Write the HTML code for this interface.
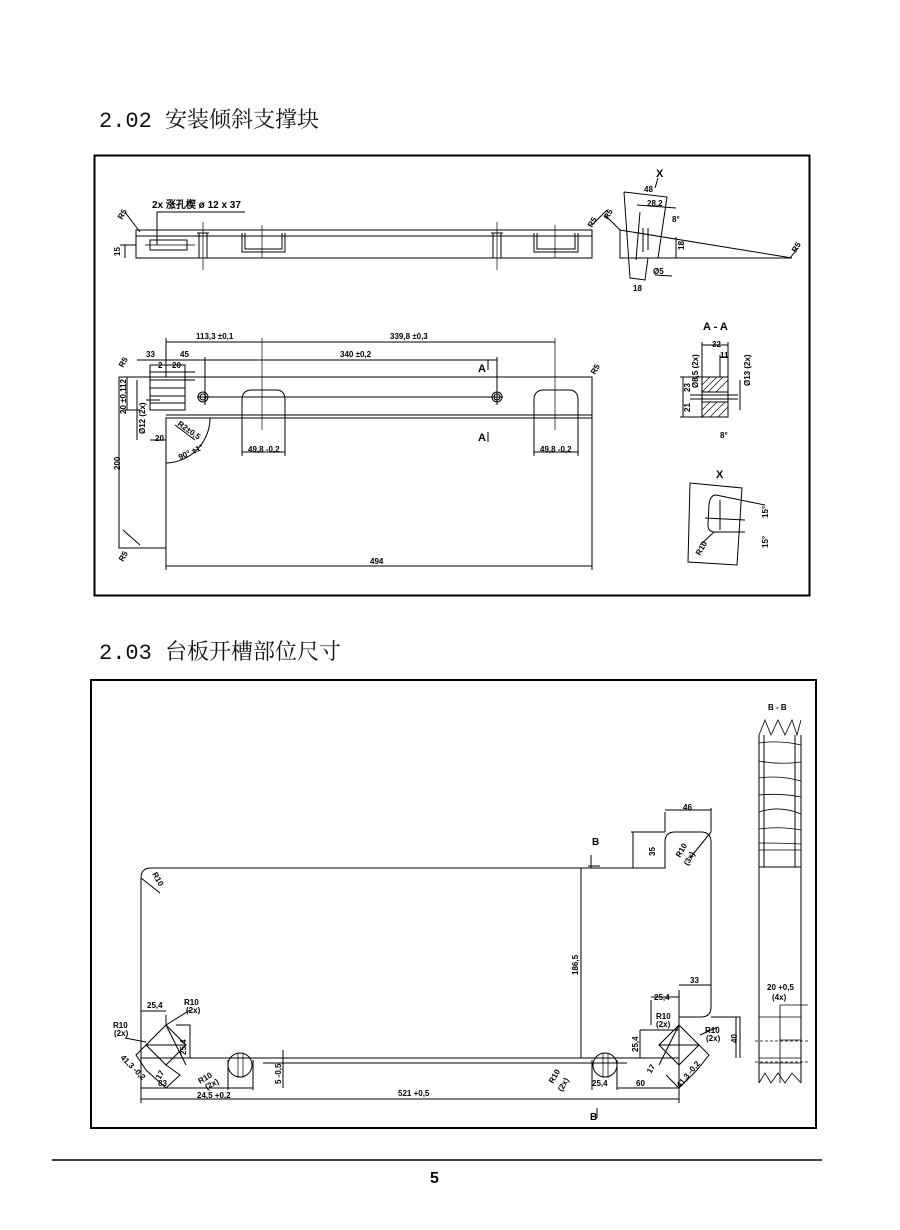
<!DOCTYPE html>
<html><head><meta charset="utf-8"><style>
html,body{margin:0;padding:0;background:#fff;}
svg{display:block;}
.t{font-family:"Liberation Sans",sans-serif;font-size:8px;font-weight:bold;fill:#000;}
.h{font-family:"Liberation Mono","Noto Serif CJK SC",serif;font-size:22px;fill:#111;}
</style></head><body>
<svg width="900" height="1230" viewBox="0 0 900 1230" xmlns="http://www.w3.org/2000/svg">
<text class="h" x="99" y="127">2.02 安装倾斜支撑块</text>
<text class="h" x="99" y="659">2.03 台板开槽部位尺寸</text>

<g fill="none" stroke="#000" stroke-width="1">
<rect x="94.5" y="155.5" width="715" height="440" stroke-width="2"/>
<!-- top side view -->
<path d="M136 230 H592 V258 H136 Z"/>
<line x1="136" y1="236" x2="592" y2="236"/>
<path d="M242 233 V252 H285 V233 M245 233 V249 H282 V233"/>
<path d="M534 233 V252 H578 V233 M537 233 V249 H575 V233"/>
<line x1="262" y1="225" x2="262" y2="258" stroke-width="0.7"/>
<line x1="555" y1="225" x2="555" y2="258" stroke-width="0.7"/>
<path d="M199 233 V258 M207 233 V258 M197 233 H209"/>
<line x1="203" y1="222" x2="203" y2="270" stroke-width="0.7"/>
<path d="M493 233 V258 M501 233 V258 M491 233 H503"/>
<line x1="497" y1="222" x2="497" y2="270" stroke-width="0.7"/>
<rect x="150" y="240" width="37" height="10"/>
<line x1="145" y1="245" x2="195" y2="245" stroke-width="0.7"/>
<path d="M157 245 V212 H245"/>
<path d="M125 245 V258 M120 245 H136"/>
<line x1="125" y1="212" x2="140" y2="232"/>
<!-- wedge -->
<path d="M620 230 L792 258 H620 Z"/>
<path d="M624 192 L667 197 L658 258 M624 192 L630 278 L645 280 L648 258"/>
<path d="M637 205 L676 208 M640 212 L636 260 M643 228 V252 M648 228 V250"/>
<path d="M676 237 V258 M655 275 L672 276"/>
<path d="M605 215 L620 230 M592 225 L607 210"/>
<line x1="658" y1="178" x2="655" y2="188"/>
<line x1="790" y1="258" x2="798" y2="248"/>
<!-- plan view -->
<path d="M119 377 H592 V418 M119 377 V548 H166 V418 H592"/>
<line x1="166" y1="415" x2="592" y2="415"/>
<line x1="592" y1="418" x2="592" y2="570"/>
<line x1="166" y1="548" x2="166" y2="570"/>
<line x1="166" y1="566" x2="592" y2="566"/>
<line x1="197" y1="397" x2="503" y2="397"/>
<circle cx="203" cy="397" r="5"/><circle cx="203" cy="397" r="3"/>
<circle cx="497" cy="397" r="5"/><circle cx="497" cy="397" r="3"/>
<path d="M242 417 V400 Q242 390 252 390 H276 Q285 390 285 400 V417"/>
<path d="M534 417 V400 Q534 390 544 390 H569 Q578 390 578 400 V417"/>
<path d="M242 417 V456 M285 417 V456 M242 452 H285 M534 417 V456 M578 417 V456 M534 452 H578"/>
<line x1="262" y1="338" x2="262" y2="430" stroke-width="0.7"/>
<line x1="555" y1="338" x2="555" y2="430" stroke-width="0.7"/>
<path d="M166 342 H555 M166 338 V377 M205 360 H497 M137 360 H205 M205 357 V405 M497 357 V405"/>
<path d="M150 365 H185 V410 H150 Z M150 372 H195 M150 380 H195 M150 388 H185 M150 396 H185 M150 403 H185"/>
<path d="M166 463 A45 45 0 0 0 210 418"/>
<path d="M175 425 L195 440"/>
<path d="M127 377 V410 M123 410 H140 M137 380 V440 M146 400 H160 M150 440 H166"/>
<path d="M123 530 L140 545"/>
<path d="M488 360 V370 M488 432 V442"/>
<!-- A-A -->
<rect x="702" y="377" width="26" height="40"/>
<path d="M702 392 H728 M702 402 H728 M690 395 H738 M690 399 H738"/>
<path d="M702 385 L710 377 M702 392 L717 377 M708 392 L723 377 M716 392 L728 380 M702 410 L710 402 M702 417 L717 402 M710 417 L725 402 M718 417 L728 407" stroke-width="0.7"/>
<path d="M702 342 V377 M728 342 V377 M702 345 H728 M720 355 V377 M720 357 H728"/>
<path d="M680 377 H702 M680 417 H702 M683 377 V417 M740 380 V410"/>
<!-- X detail -->
<path d="M690 483 L742 488 L737 565 L688 562 Z"/>
<path d="M716 495 Q710 495 709 505 L708 525 Q708 532 715 532 L745 532 M716 495 L765 505"/>
<path d="M705 518 L745 520 M720 500 L720 530"/>
<line x1="700" y1="545" x2="714" y2="532"/>
<!-- bottom frame -->
<rect x="91" y="680" width="725" height="448" stroke-width="2"/>
<path d="M141 1058 V878 Q141 868 151 868 H665 V842 Q665 832 675 832 H701 Q711 832 711 842 V1007 Q711 1017 701 1017 H679 V1058 Z"/>
<path d="M141 1058 H679"/>
<line x1="263" y1="1063" x2="627" y2="1063"/>
<line x1="581" y1="868" x2="581" y2="1058"/>
<path d="M141 1058 V1103 M679 1058 V1103 M141 1099 H679 M141 1088 H228 M228 1088 H253"/>
<path d="M228 1060 V1090 M253 1060 V1090 M592 1060 V1090 M617 1060 V1090 M617 1088 H679"/>
<circle cx="240" cy="1065" r="12"/><circle cx="605" cy="1065" r="12"/>
<path d="M238 1053 V1078 M243 1053 V1078 M603 1053 V1078 M608 1053 V1078" stroke-width="0.7"/>
<path d="M283 1050 V1088"/>
<path d="M146 1045 L166 1025 L186 1045 L166 1065 Z M146 1045 L136 1055 L146 1070 L166 1088 L180 1075 L166 1065"/>
<path d="M166 1025 L186 1065 M146 1045 L186 1045"/>
<path d="M141 1015 V1040 M166 1015 V1025 M141 1011 H166 M166 1025 L190 1010 M125 1038 L146 1042"/>
<path d="M176 1025 H190 V1058"/>
<path d="M659 1045 L679 1025 L699 1045 L679 1065 Z M699 1045 L709 1055 L697 1070 L679 1088 L666 1075"/>
<path d="M659 1045 L699 1045 M679 1025 L659 1065"/>
<path d="M640 1030 H679 M640 1030 V1058 M651 1000 V1025 M679 990 V1017 M651 997 H679 M679 985 H711 M700 1035 L718 1027"/>
<path d="M711 1017 H740 V1058 M736 1017 V1058"/>
<path d="M631 832 H665 M633 832 V868 M665 812 V832 M711 808 V832 M665 810 H711 M690 858 L711 832"/>
<path d="M141 878 L160 893"/>
<path d="M591 855 V868 M588 866 H600"/>
<path d="M597 1108 V1118"/>
<!-- B-B strip -->
<path d="M759 735 V1083 M801 735 V1083 M764 735 V867 M795 735 V867 M759 867 H801"/>
<path d="M759 735 L765 720 L771 735 L778 720 L785 735 L792 720 L797 735 L801 720" stroke-width="0.8"/>
<path d="M759 1083 L765 1073 L771 1083 L778 1073 L785 1083 L792 1073 L801 1083" stroke-width="0.8"/>
<path d="M759 743 Q780 740 801 745 M759 761 Q780 765 801 762 M759 778 Q780 775 801 781 M759 795 Q780 793 801 797 M759 812 Q780 805 801 814 M759 829 Q780 826 801 830 M759 850 H801 M759 843 Q780 843 801 844" stroke-width="0.8"/>
<path d="M759 1017 H801 M759 1058 H801 M759 1063 H801 M780 1005 V1083 M780 1005 H808 M780 1040 H801 M780 1058 H801" stroke-width="0.8"/>
<path d="M755 1041 H810 M755 1062 H810" stroke-dasharray="3 2" stroke-width="0.7"/>
<!-- page bottom -->
<line x1="52" y1="1160" x2="822" y2="1160" stroke-width="1.5"/>
</g>

<g class="t">
<text x="152" y="208" style="font-size:10px">2x 涨孔楔 ø 12 x 37</text>
<text x="122" y="220" transform="rotate(-60 122 220)">R5</text>
<text x="120" y="256" transform="rotate(-90 120 256)">15</text>
<text x="592" y="228" transform="rotate(-60 592 228)">R5</text>
<text x="608" y="220" transform="rotate(-60 608 220)">R5</text>
<text x="796" y="253" transform="rotate(-60 796 253)">R5</text>
<text x="656" y="177" style="font-size:11px">X</text>
<text x="644" y="192">48</text>
<text x="647" y="206">28,2</text>
<text x="672" y="222">8°</text>
<text x="684" y="250" transform="rotate(-90 684 250)">18</text>
<text x="653" y="274">Ø5</text>
<text x="633" y="291">18</text>
<text x="196" y="339">113,3 ±0,1</text>
<text x="390" y="339">339,8 ±0,3</text>
<text x="340" y="357">340 ±0,2</text>
<text x="146" y="357">33</text><text x="180" y="357">45</text>
<text x="158" y="368">2</text><text x="172" y="368">20</text>
<text x="123" y="368" transform="rotate(-60 123 368)">R5</text>
<text x="595" y="375" transform="rotate(-60 595 375)">R5</text>
<text x="126" y="388" transform="rotate(-90 126 388)">12</text>
<text x="126" y="414" transform="rotate(-90 126 414)">20 ±0,1</text>
<text x="145" y="434" transform="rotate(-90 145 434)">Ø12 (2x)</text>
<text x="155" y="441">20</text>
<text x="177" y="425" transform="rotate(35 177 425)">R2±0,5</text>
<text x="180" y="460" transform="rotate(-25 180 460)">90° ±1°</text>
<text x="120" y="470" transform="rotate(-90 120 470)">200</text>
<text x="123" y="562" transform="rotate(-60 123 562)">R5</text>
<text x="248" y="452">49,8 -0,2</text>
<text x="540" y="452">49,8 -0,2</text>
<text x="370" y="564">494</text>
<text x="478" y="372" style="font-size:11px">A</text>
<text x="478" y="441" style="font-size:11px">A</text>
<text x="703" y="330" style="font-size:11px">A - A</text>
<text x="712" y="347">32</text><text x="720" y="358">11</text>
<text x="690" y="392" transform="rotate(-90 690 392)">23</text>
<text x="690" y="412" transform="rotate(-90 690 412)">21</text>
<text x="698" y="388" transform="rotate(-90 698 388)">Ø8,5 (2x)</text>
<text x="750" y="386" transform="rotate(-90 750 386)">Ø13 (2x)</text>
<text x="720" y="438">8°</text>
<text x="716" y="478" style="font-size:11px">X</text>
<text x="768" y="518" transform="rotate(-90 768 518)">15°</text>
<text x="768" y="548" transform="rotate(-90 768 548)">15°</text>
<text x="700" y="556" transform="rotate(-60 700 556)">R10</text>
<text x="768" y="710">B - B</text>
<text x="683" y="810">46</text>
<text x="655" y="856" transform="rotate(-90 655 856)">35</text>
<text x="680" y="858" transform="rotate(-60 680 858)">R10</text>
<text x="688" y="866" transform="rotate(-60 688 866)">(3x)</text>
<text x="592" y="845" style="font-size:10px">B</text>
<text x="152" y="874" transform="rotate(60 152 874)">R10</text>
<text x="578" y="975" transform="rotate(-90 578 975)">186,5</text>
<text x="690" y="983">33</text>
<text x="767" y="990">20 +0,5</text>
<text x="772" y="1000">(4x)</text>
<text x="654" y="1000">25,4</text>
<text x="656" y="1019">R10</text><text x="656" y="1027">(2x)</text>
<text x="705" y="1033">R10</text><text x="706" y="1041">(2x)</text>
<text x="737" y="1043" transform="rotate(-90 737 1043)">40</text>
<text x="638" y="1052" transform="rotate(-90 638 1052)">25,4</text>
<text x="147" y="1008">25,4</text>
<text x="184" y="1005">R10</text><text x="186" y="1013">(2x)</text>
<text x="113" y="1028">R10</text><text x="114" y="1036">(2x)</text>
<text x="186" y="1055" transform="rotate(-90 186 1055)">25,4</text>
<text x="120" y="1058" transform="rotate(45 120 1058)">41,3 -0,2</text>
<text x="160" y="1080" transform="rotate(-60 160 1080)">17</text>
<text x="158" y="1086">83</text>
<text x="200" y="1084" transform="rotate(-30 200 1084)">R10</text>
<text x="207" y="1090" transform="rotate(-30 207 1090)">(2x)</text>
<text x="197" y="1098">24,5 +0,2</text>
<text x="281" y="1084" transform="rotate(-90 281 1084)">5 -0,5</text>
<text x="398" y="1096">521 +0,5</text>
<text x="553" y="1084" transform="rotate(-60 553 1084)">R10</text>
<text x="562" y="1092" transform="rotate(-60 562 1092)">(2x)</text>
<text x="592" y="1086">25,4</text>
<text x="636" y="1086">60</text>
<text x="651" y="1074" transform="rotate(-60 651 1074)">17</text>
<text x="680" y="1088" transform="rotate(-50 680 1088)">41,3 -0,2</text>
<text x="590" y="1120" style="font-size:10px">B</text>
<text x="430" y="1183" style="font-size:16px">5</text>
</g>
</svg>
</body></html>
